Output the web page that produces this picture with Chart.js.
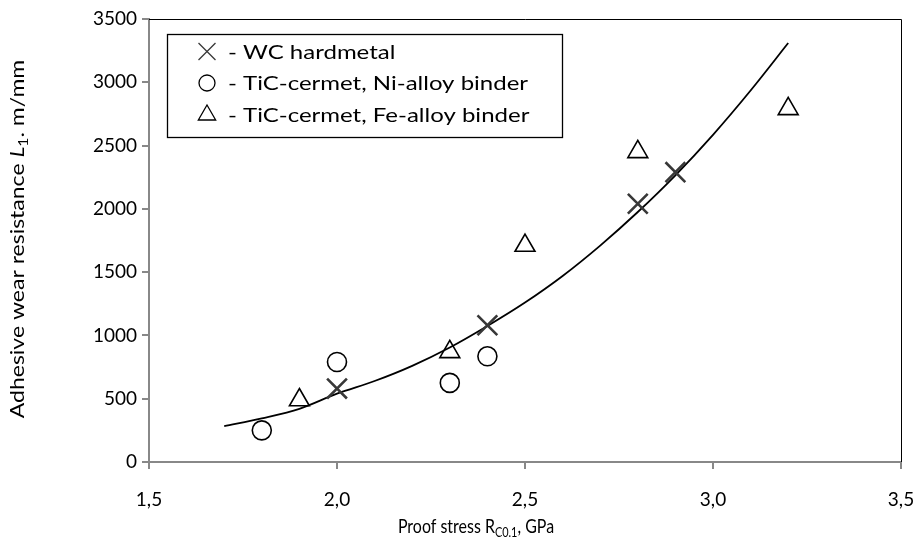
<!DOCTYPE html>
<html lang="en">
<head>
  <meta charset="UTF-8">
  <title>Adhesive wear resistance vs proof stress</title>
  <script src="https://cdn.jsdelivr.net/npm/chart.js"></script>
  <style>
    html, body {
      margin: 0;
      padding: 0;
      background: #fff;
    }
    .wrap {
      width: 922px;
      height: 546px;
      position: relative;
    }
  </style>
</head>
<body>

<div class="wrap">
  <canvas id="wearChart" width="922" height="546"></canvas>
</div>

<script>
// measured points
const wcStress = [2.0, 2.4, 2.8, 2.9];
const wcWear = [580, 1080, 2040, 2290];

const niStress = [1.8, 2.0, 2.3, 2.4];
const niWear = [250, 790, 625, 835];

const feStress = [1.9, 2.3, 2.5, 2.8, 3.2];
const feWear = [490, 870, 1710, 2450, 2790];

// trend curve
const trendStress = [1.7, 1.8, 1.9, 2.0, 2.1, 2.2, 2.3, 2.4, 2.5, 2.6, 2.7, 2.8, 2.9, 3.0, 3.1, 3.2];
const trendWear = [284, 345, 420, 540, 640, 760, 905, 1075, 1260, 1470, 1710, 1975, 2265, 2585, 2935, 3310];

const seriesNames = ['- WC hardmetal', '- TiC-cermet, Ni-alloy binder', '- TiC-cermet, Fe-alloy binder'];

const FONT = 'Lato, "Open Sans", sans-serif';

function toPoints(xs, ys) {
  return xs.map((x, i) => ({ x: x, y: ys[i] }));
}

// draws text pieces (normal / italic / subscript) stretched horizontally by sx;
// centred on x0 unless left is set
function drawParts(ctx, parts, x0, baseY, sx, left) {
  let total = 0;
  parts.forEach(p => { ctx.font = p.f; p.w = ctx.measureText(p.t).width; total += p.w; });
  ctx.save();
  ctx.translate(x0, baseY);
  ctx.scale(sx, 1);
  let x = left ? 0 : -total / 2;
  ctx.textAlign = 'left';
  parts.forEach(p => {
    ctx.font = p.f;
    ctx.fillText(p.t, x, p.dy);
    x += p.w;
  });
  ctx.restore();
}

// legend box, axis titles and the top/right frame
const extras = {
  id: 'extras',
  afterDraw(chart) {
    const ctx = chart.ctx;
    const area = chart.chartArea;
    ctx.save();

    // frame
    ctx.strokeStyle = '#000';
    ctx.lineWidth = 1;
    ctx.beginPath();
    ctx.moveTo(area.left, area.top + 0.5);
    ctx.lineTo(area.right + 0.5, area.top + 0.5);
    ctx.lineTo(area.right + 0.5, area.bottom);
    ctx.stroke();

    // legend
    ctx.lineWidth = 1.3;
    ctx.strokeRect(167.5, 34.5, 395, 103);
    const rows = [51.5, 83, 115];
    const mx = 207;
    chart.data.datasets.slice(0, 3).forEach((ds, i) => {
      const y = rows[i];
      ctx.strokeStyle = ds.borderColor;
      ctx.fillStyle = 'rgba(0,0,0,0)';
      Chart.helpers.drawPoint(ctx, {
        pointStyle: ds.pointStyle,
        radius: ds.pointStyle === 'crossRot' ? 12 : (ds.pointStyle === 'triangle' ? 10 : 8),
        rotation: 0,
        borderWidth: ds.borderWidth
      }, mx, y);
      ctx.fillStyle = '#000';
      ctx.textBaseline = 'middle';
      drawParts(ctx, [{ t: seriesNames[i], f: '20px ' + FONT, dy: 1 }], 228, y, 1.2, true);
    });
    ctx.restore();

    ctx.save();
    ctx.fillStyle = '#000';
    ctx.textBaseline = 'alphabetic';

    // x title with subscript
    const xParts = [
      { t: 'Proof stress R', f: '19px ' + FONT, dy: 0 },
      { t: 'C0.1', f: '13px ' + FONT, dy: 4 },
      { t: ', GPa', f: '19px ' + FONT, dy: 0 }
    ];
    drawParts(ctx, xParts, 476, 533, 0.84);

    // y title, rotated, italic L with subscript
    ctx.translate(24, 239);
    ctx.rotate(-Math.PI / 2);
    const yParts = [
      { t: 'Adhesive wear resistance ', f: '19px ' + FONT, dy: 0 },
      { t: 'L', f: 'italic 19px ' + FONT, dy: 0 },
      { t: '1', f: '13px ' + FONT, dy: 4 },
      { t: '. m/mm', f: '19px ' + FONT, dy: 0 }
    ];
    drawParts(ctx, yParts, 0, 0, 1.21);
    ctx.restore();
  }
};

const ctx = document.getElementById('wearChart').getContext('2d');

new Chart(ctx, {
  type: 'scatter',
  data: {
    datasets: [
      {
        label: seriesNames[0],
        data: toPoints(wcStress, wcWear),
        pointStyle: 'crossRot',
        pointRadius: 14,
        borderColor: '#383838',
        backgroundColor: 'transparent',
        borderWidth: 2.6
      },
      {
        label: seriesNames[1],
        data: toPoints(niStress, niWear),
        pointStyle: 'circle',
        pointRadius: 9.5,
        borderColor: '#000',
        backgroundColor: 'transparent',
        borderWidth: 1.6
      },
      {
        label: seriesNames[2],
        data: toPoints(feStress, feWear),
        pointStyle: 'triangle',
        pointRadius: 11.5,
        borderColor: '#000',
        backgroundColor: 'transparent',
        borderWidth: 1.6
      },
      {
        label: 'trend',
        data: toPoints(trendStress, trendWear),
        showLine: true,
        pointRadius: 0,
        borderColor: '#000',
        borderWidth: 1.8,
        cubicInterpolationMode: 'monotone'
      }
    ]
  },
  options: {
    responsive: false,
    animation: false,
    layout: {
      padding: { top: 19, right: 21, left: 0, bottom: 0 }
    },
    plugins: {
      legend: { display: false },
      tooltip: { enabled: false }
    },
    scales: {
      x: {
        type: 'linear',
        min: 1.5,
        max: 3.5,
        afterFit: s => {
          s.height = 84;
          s.paddingLeft = 0;
          s.paddingRight = 0;
        },
        ticks: {
          stepSize: 0.5,
          padding: 19,
          color: '#000',
          font: { family: FONT, size: 19 },
          callback: v => v.toFixed(1).replace('.', ',')
        },
        grid: {
          drawOnChartArea: false,
          tickLength: 7,
          color: '#888',
          lineWidth: 2
        },
        border: { color: '#888', width: 2 }
      },
      y: {
        min: 0,
        max: 3500,
        afterFit: s => { s.width = 149; },
        ticks: {
          stepSize: 500,
          padding: 5,
          color: '#000',
          font: { family: FONT, size: 19 },
          callback: v => String(v)
        },
        grid: {
          drawOnChartArea: false,
          tickLength: 7,
          color: '#888',
          lineWidth: 2
        },
        border: { color: '#888', width: 2 }
      }
    }
  },
  plugins: [extras]
});
</script>

</body>
</html>
